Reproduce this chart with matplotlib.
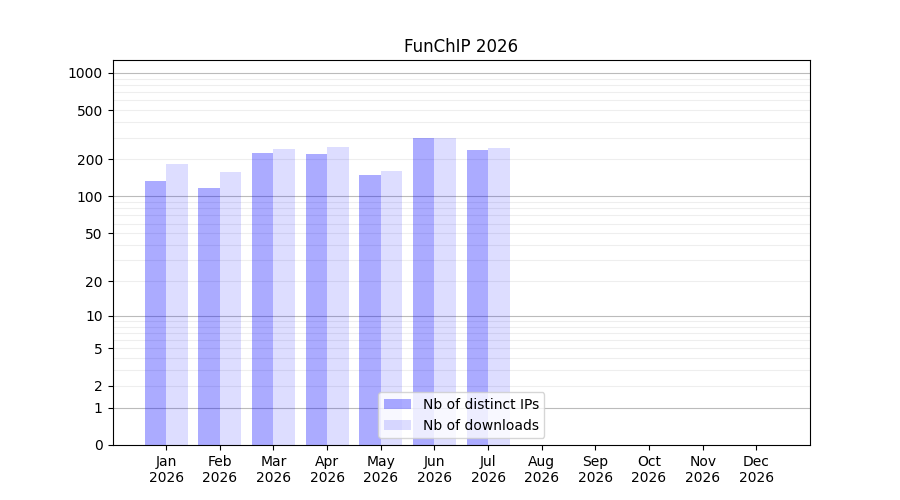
import matplotlib
matplotlib.use("Agg")
import matplotlib.pyplot as plt
import numpy as np
from matplotlib.ticker import FixedLocator, NullFormatter

# monthly stats (log(x+1) axis)
months = ["Jan", "Feb", "Mar", "Apr", "May", "Jun", "Jul", "Aug", "Sep", "Oct", "Nov", "Dec"]
year = "2026"
distinct_ips = [134, 118, 227, 222, 150, 300, 240]
downloads = [185, 159, 244, 253, 162, 300, 249]

ytick_values = [0, 1, 2, 5, 10, 20, 50, 100, 200, 500, 1000]
major_grid = [1, 10, 100, 1000]
minor_grid = [3, 4, 6, 7, 8, 9, 20, 30, 40, 50, 60, 70, 80, 90,
              200, 300, 400, 500, 600, 700, 800, 900]
minor_grid = [v for v in minor_grid] + [2, 5]


def fwd(y):
    y = np.asarray(y, dtype=float)
    with np.errstate(invalid="ignore", divide="ignore"):
        return np.log10(np.maximum(y, -0.999999) + 1)


def inv(y):
    return 10 ** np.asarray(y, dtype=float) - 1


fig, ax = plt.subplots(figsize=(9, 5), dpi=100)

x = np.arange(len(distinct_ips))
w = 0.4
ax.bar(x - w / 2, distinct_ips, width=w, color="blue", alpha=0.33, label="Nb of distinct IPs")
ax.bar(x + w / 2, downloads, width=w, color="blue", alpha=0.135, label="Nb of downloads")

ax.set_yscale("function", functions=(fwd, inv))
ax.set_ylim(0, 1270)
ax.set_xlim(-1, 12)

ax.yaxis.set_major_locator(FixedLocator(ytick_values))
ax.set_yticklabels([str(v) for v in ytick_values])
ax.yaxis.set_minor_locator(FixedLocator(sorted(set(minor_grid))))
ax.yaxis.set_minor_formatter(NullFormatter())
ax.tick_params(axis="y", which="minor", length=0)

ax.set_xticks(np.arange(len(months)))
ax.set_xticklabels([m + "\n" + year for m in months])

# grid lines drawn by hand from the tick lists
ax.yaxis.grid(False)
for v in sorted(set(minor_grid)):
    ax.axhline(v, color="#eeeeee", linewidth=0.8, zorder=0)
for v in major_grid:
    ax.axhline(v, color="#bbbbbb", linewidth=0.8, zorder=0)

ax.set_title("FunChIP 2026")
ax.legend(loc="lower center")

plt.savefig("out.png")
